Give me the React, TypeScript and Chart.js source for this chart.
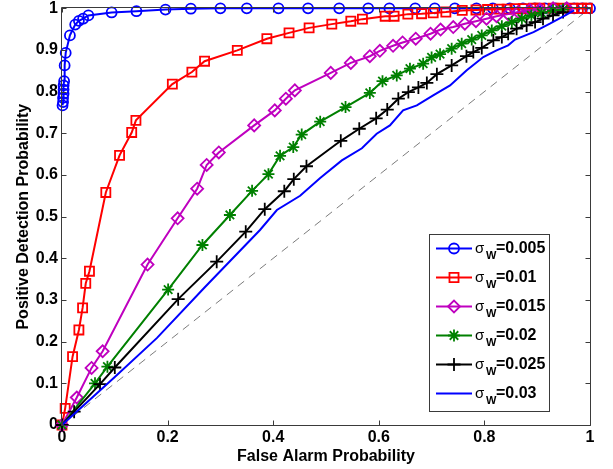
import React, { useEffect, useRef } from 'react';
import { Chart, registerables } from 'chart.js';

Chart.register(...registerables);

// ---------- tick labels ----------
const xTickLabels = ['0', '0.2', '0.4', '0.6', '0.8', '1'];
const yTickLabels = ['0', '0.1', '0.2', '0.3', '0.4', '0.5', '0.6', '0.7', '0.8', '0.9', '1'];
const seriesLabels = ['0.005', '0.01', '0.015', '0.02', '0.025', '0.03'];
const xTitle = 'False Alarm Probability';
const yTitle = 'Positive Detection Probability';

// ---------- series: sigma_w = 0.005 (blue circles) ----------
const s005X = [0.001, 0.002, 0.002, 0.003, 0.003, 0.003, 0.004, 0.005, 0.007, 0.015, 0.025, 0.032, 0.04, 0.05, 0.094, 0.141, 0.196, 0.244, 0.30, 0.35, 0.41, 0.466, 0.525, 0.58, 0.62, 0.669, 0.706, 0.744, 0.785, 0.816, 0.848, 0.873, 0.895, 0.915, 0.935, 0.955, 0.97, 0.985, 1.0];
const s005Y = [0.767, 0.775, 0.785, 0.795, 0.805, 0.815, 0.825, 0.863, 0.893, 0.935, 0.961, 0.97, 0.975, 0.983, 0.99, 0.993, 0.997, 0.999, 1, 1, 1, 1, 1, 1, 1, 1, 1, 1, 1, 1, 1, 1, 1, 1, 1, 1, 1, 1, 1];

// ---------- sigma_w = 0.01 (red squares) ----------
const s010X = [0, 0.006, 0.020, 0.032, 0.039, 0.045, 0.052, 0.083, 0.109, 0.132, 0.140, 0.209, 0.246, 0.270, 0.332, 0.388, 0.430, 0.468, 0.511, 0.547, 0.569, 0.612, 0.629, 0.655, 0.681, 0.703, 0.727, 0.758, 0.784, 0.806, 0.828, 0.843, 0.858, 0.874, 0.893, 0.905, 0.93, 0.949, 0.968, 0.984, 0.995];
const s010Y = [0, 0.04, 0.164, 0.228, 0.281, 0.340, 0.369, 0.558, 0.647, 0.702, 0.731, 0.818, 0.847, 0.873, 0.899, 0.927, 0.941, 0.953, 0.962, 0.969, 0.974, 0.981, 0.981, 0.986, 0.987, 0.989, 0.991, 0.995, 0.996, 0.997, 0.998, 0.998, 0.999, 0.999, 1, 1, 1, 1, 1, 1, 1];

// ---------- sigma_w = 0.015 (magenta diamonds) ----------
const s015X = [0, 0.028, 0.056, 0.077, 0.162, 0.219, 0.256, 0.274, 0.297, 0.364, 0.403, 0.424, 0.441, 0.509, 0.547, 0.583, 0.602, 0.627, 0.645, 0.670, 0.698, 0.717, 0.741, 0.763, 0.784, 0.804, 0.823, 0.845, 0.864, 0.886, 0.905, 0.93, 0.956];
const s015Y = [0, 0.066, 0.137, 0.177, 0.385, 0.496, 0.567, 0.624, 0.654, 0.719, 0.755, 0.783, 0.803, 0.845, 0.869, 0.885, 0.898, 0.910, 0.918, 0.927, 0.939, 0.949, 0.955, 0.963, 0.969, 0.975, 0.981, 0.986, 0.991, 0.996, 0.997, 1, 1];

// ---------- sigma_w = 0.02 (green stars) ----------
const s020X = [0, 0.0625, 0.086, 0.201, 0.266, 0.318, 0.360, 0.391, 0.413, 0.438, 0.454, 0.489, 0.537, 0.583, 0.607, 0.634, 0.659, 0.684, 0.700, 0.716, 0.738, 0.757, 0.776, 0.795, 0.814, 0.833, 0.852, 0.871, 0.889, 0.908, 0.930, 0.949];
const s020Y = [0, 0.10, 0.14, 0.325, 0.432, 0.504, 0.562, 0.602, 0.646, 0.667, 0.697, 0.728, 0.763, 0.797, 0.825, 0.839, 0.855, 0.867, 0.882, 0.890, 0.903, 0.915, 0.925, 0.935, 0.947, 0.957, 0.967, 0.975, 0.983, 0.989, 0.995, 0.997];

// ---------- sigma_w = 0.025 (black plus) ----------
const s025X = [0, 0.023, 0.072, 0.100, 0.220, 0.293, 0.348, 0.384, 0.421, 0.439, 0.463, 0.528, 0.563, 0.595, 0.616, 0.637, 0.656, 0.675, 0.691, 0.710, 0.738, 0.766, 0.779, 0.795, 0.817, 0.833, 0.845, 0.861, 0.880, 0.896, 0.911, 0.930, 0.949];
const s025Y = [0, 0.032, 0.098, 0.138, 0.302, 0.392, 0.464, 0.518, 0.561, 0.590, 0.621, 0.682, 0.711, 0.736, 0.757, 0.783, 0.799, 0.810, 0.821, 0.842, 0.863, 0.885, 0.895, 0.905, 0.923, 0.931, 0.939, 0.951, 0.959, 0.967, 0.975, 0.983, 0.991];

// ---------- sigma_w = 0.03 (blue line, no markers) ----------
const s030X = [0, 0.10, 0.18, 0.27, 0.375, 0.407, 0.451, 0.489, 0.530, 0.568, 0.596, 0.621, 0.646, 0.672, 0.703, 0.735, 0.766, 0.798, 0.823, 0.845, 0.858, 0.893, 0.924, 0.953, 0.97];
const s030Y = [0, 0.115, 0.209, 0.33, 0.468, 0.516, 0.55, 0.593, 0.635, 0.664, 0.699, 0.719, 0.755, 0.767, 0.791, 0.815, 0.851, 0.883, 0.899, 0.911, 0.925, 0.943, 0.963, 0.983, 0.995];

// ---------- chance diagonal ----------
const diagX = [0, 1];
const diagY = [0, 1];

// ---------- styles ----------
const seriesColors = ['#0000ff', '#ff0000', '#bf00bf', '#008000', '#000000', '#0000ff'];
const seriesMarkers = ['circle', 'rect', 'rectRot', 'star', 'cross', 'none'];
const markerRadius = [5, 6.4, 6, 6, 6.5, 0];

const seriesX = [s005X, s010X, s015X, s020X, s025X, s030X];
const seriesY = [s005Y, s010Y, s015Y, s020Y, s025Y, s030Y];

const FONT = '"Liberation Sans", Arial, Helvetica, sans-serif';
const AXIS_COLOR = '#3a3a3a';

function toPoints(xs: number[], ys: number[]) {
  return xs.map((x, i) => ({ x, y: ys[i] }));
}

function drawMarker(ctx: CanvasRenderingContext2D, style: string, x: number, y: number, r: number) {
  ctx.beginPath();
  if (style === 'circle') {
    ctx.arc(x, y, r, 0, Math.PI * 2);
  } else if (style === 'rect') {
    const s = r * Math.SQRT1_2;
    ctx.rect(x - s, y - s, 2 * s, 2 * s);
  } else if (style === 'rectRot') {
    ctx.moveTo(x - r, y);
    ctx.lineTo(x, y - r);
    ctx.lineTo(x + r, y);
    ctx.lineTo(x, y + r);
    ctx.closePath();
  } else if (style === 'star') {
    const d = r * Math.SQRT1_2;
    ctx.moveTo(x - r, y); ctx.lineTo(x + r, y);
    ctx.moveTo(x, y - r); ctx.lineTo(x, y + r);
    ctx.moveTo(x - d, y - d); ctx.lineTo(x + d, y + d);
    ctx.moveTo(x - d, y + d); ctx.lineTo(x + d, y - d);
  } else if (style === 'cross') {
    ctx.moveTo(x - r, y); ctx.lineTo(x + r, y);
    ctx.moveTo(x, y - r); ctx.lineTo(x, y + r);
  } else {
    return;
  }
  ctx.stroke();
}

const boxPlugin = {
  id: 'matlabBox',
  afterDatasetsDraw(chart: any) {
    const { ctx, chartArea } = chart;
    const { left, right, top, bottom } = chartArea;
    const L = Math.round(left) - 0.5;
    const R = Math.round(right) + 0.5;
    const T = Math.round(top) - 0.5;
    const B = Math.round(bottom) + 0.5;
    ctx.save();
    ctx.strokeStyle = AXIS_COLOR;
    ctx.lineWidth = 1;
    ctx.beginPath();
    ctx.rect(L, T, R - L, B - T);
    ctx.stroke();
    const tl = 5;
    const xs = chart.scales.x;
    const ys = chart.scales.y;
    ctx.beginPath();
    xs.ticks.forEach((t: any) => {
      const px = Math.round(xs.getPixelForValue(t.value)) + 0.5;
      ctx.moveTo(px, B); ctx.lineTo(px, B - tl);
      ctx.moveTo(px, T); ctx.lineTo(px, T + tl);
    });
    ys.ticks.forEach((t: any) => {
      const py = Math.round(ys.getPixelForValue(t.value)) + 0.5;
      ctx.moveTo(L, py); ctx.lineTo(L + tl, py);
      ctx.moveTo(R, py); ctx.lineTo(R - tl, py);
    });
    ctx.stroke();
    ctx.restore();
  },
};

const legendPlugin = {
  id: 'matlabLegend',
  afterDraw(chart: any) {
    const { ctx, chartArea } = chart;
    const bx = Math.round(chartArea.right) - 161;
    const by = Math.round(chartArea.top) + 226;
    const bw = 120;
    const bh = 177;
    ctx.save();
    ctx.fillStyle = '#ffffff';
    ctx.fillRect(bx, by, bw, bh);
    ctx.strokeStyle = AXIS_COLOR;
    ctx.lineWidth = 1;
    ctx.strokeRect(bx + 0.5, by + 0.5, bw, bh);
    seriesLabels.forEach((lab, i) => {
      const base = by + 18.5 + 29 * i;
      const ly = base - 4;
      ctx.strokeStyle = seriesColors[i];
      ctx.lineWidth = 2;
      ctx.beginPath();
      ctx.moveTo(bx + 7, ly);
      ctx.lineTo(bx + 43, ly);
      ctx.stroke();
      ctx.lineWidth = 1.8;
      drawMarker(ctx, seriesMarkers[i], bx + 25, ly, markerRadius[i]);
      ctx.fillStyle = '#000000';
      ctx.textAlign = 'left';
      ctx.textBaseline = 'alphabetic';
      ctx.font = `15px ${FONT}`;
      ctx.fillText('\u03c3', bx + 46, base);
      ctx.font = `bold 11px ${FONT}`;
      ctx.fillText('W', bx + 57, base + 6);
      ctx.font = `bold 16px ${FONT}`;
      ctx.fillText('=' + lab, bx + 67, base);
    });
    ctx.restore();
  },
};

export default function App() {
  const canvasRef = useRef<HTMLCanvasElement>(null);

  useEffect(() => {
    document.body.style.margin = '0';
    const canvas = canvasRef.current;
    if (!canvas) return;

    const datasets: any[] = seriesX.map((xs, i) => ({
      label: seriesLabels[i],
      data: toPoints(xs, seriesY[i]),
      showLine: true,
      borderColor: seriesColors[i],
      backgroundColor: seriesColors[i],
      borderWidth: 2,
      pointStyle: seriesMarkers[i] === 'none' ? false : seriesMarkers[i],
      pointRadius: markerRadius[i],
      pointHoverRadius: markerRadius[i],
      pointBorderColor: seriesColors[i],
      pointBackgroundColor: 'rgba(0,0,0,0)',
      pointBorderWidth: 1.8,
      clip: false,
      order: 6 - i,
    }));
    datasets.push({
      label: 'diag',
      data: toPoints(diagX, diagY),
      showLine: true,
      borderColor: '#5a5a5a',
      borderWidth: 0.8,
      borderDash: [8, 6],
      pointRadius: 0,
      clip: false,
      order: 10,
    });

    const chart = new Chart(canvas, {
      type: 'scatter',
      data: { datasets },
      options: {
        animation: false,
        responsive: false,
        devicePixelRatio: 1,
        events: [],
        layout: { padding: { top: 8, right: 23, left: 0, bottom: 0 } },
        plugins: {
          legend: { display: false },
          tooltip: { enabled: false },
        },
        scales: {
          x: {
            type: 'linear',
            min: 0,
            max: 1,
            grid: { display: false, drawTicks: false },
            border: { display: false },
            ticks: {
              stepSize: 0.2,
              padding: 3,
              color: '#000',
              font: { family: FONT, size: 16, weight: 'bold' },
              callback: (_v: any, idx: number) => xTickLabels[idx],
            },
            title: {
              display: true,
              text: xTitle,
              color: '#000',
              font: { family: FONT, size: 16, weight: 'bold' },
              padding: { top: 0, bottom: 3 },
            },
            afterFit: (s: any) => {
              s.height = 44;
              s.paddingLeft = 0;
              s.paddingRight = 0;
            },
          },
          y: {
            type: 'linear',
            min: 0,
            max: 1,
            grid: { display: false, drawTicks: false },
            border: { display: false },
            ticks: {
              stepSize: 0.1,
              padding: 4,
              color: '#000',
              font: { family: FONT, size: 16, weight: 'bold' },
              callback: (_v: any, idx: number) => yTickLabels[idx],
            },
            title: {
              display: true,
              text: yTitle,
              color: '#000',
              font: { family: FONT, size: 16, weight: 'bold' },
              padding: { top: 14, bottom: 0 },
            },
            afterFit: (s: any) => {
              s.width = 62;
              s.paddingTop = 0;
              s.paddingBottom = 0;
            },
          },
        },
      } as any,
      plugins: [boxPlugin, legendPlugin],
    });

    return () => chart.destroy();
  }, []);

  return (
    <div style={{ width: 613, height: 469 }}>
      <canvas ref={canvasRef} width={613} height={469} style={{ display: 'block' }} />
    </div>
  );
}
